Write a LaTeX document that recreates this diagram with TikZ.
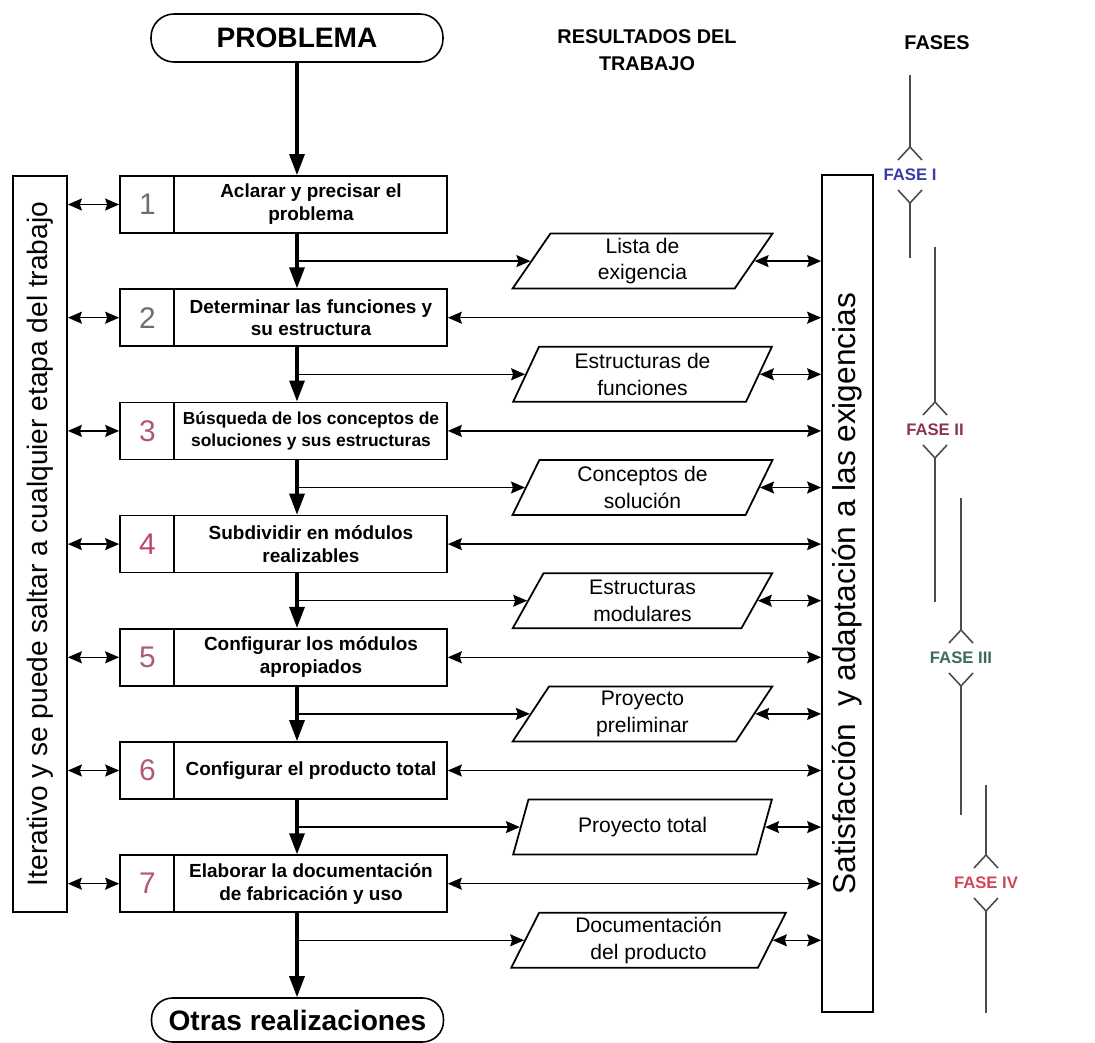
\documentclass[tikz,border=0pt]{standalone}
\usepackage{fontspec}
\setmainfont{Liberation Sans}
\usetikzlibrary{arrows.meta,shapes.geometric}

\definecolor{numgray}{HTML}{6E6E6E}
\definecolor{numrose}{HTML}{B05A72}
\definecolor{numred}{HTML}{C04462}
\definecolor{faseI}{HTML}{3A3AA8}
\definecolor{faseII}{HTML}{8C3358}
\definecolor{faseIII}{HTML}{3A6B62}
\definecolor{faseIV}{HTML}{D2465A}

\newcommand{\smallstep}{\fontsize{9.9}{13}\selectfont}

\tikzset{
  pill/.style={draw, line width=0.9pt, rounded corners=0.46cm, minimum width=5.84cm,
    minimum height=0.96cm, font=\fontsize{16}{18}\selectfont\bfseries},
  stepbox/.style={draw, line width=1pt, minimum width=6.54cm, minimum height=1.14cm},
  steptext/.style={align=center, inner sep=0pt, font=\fontsize{10.8}{13}\selectfont\bfseries},
  stepnum/.style={inner sep=0pt, font=\fontsize{17}{20}\selectfont},
  result/.style={draw, line width=1pt, trapezium, trapezium left angle=69,
    trapezium right angle=111, trapezium stretches=true, minimum height=1.1cm,
    align=center, inner sep=1pt, font=\fontsize{12}{15}\selectfont},
  sidebox/.style={draw, line width=1pt},
  sidetext/.style={rotate=90, inner sep=0pt},
  header/.style={align=center, font=\fontsize{11.3}{15.3}\selectfont\bfseries},
  flow/.style={line width=1.8pt, -{Triangle[length=0.42cm,width=0.3cm]}},
  branch/.style={line width=0.8pt, -{Stealth[length=0.28cm,width=0.24cm,inset=0.04cm]}},
  link/.style={line width=0.8pt, {Stealth[length=0.28cm,width=0.24cm,inset=0.04cm]}-{Stealth[length=0.28cm,width=0.24cm,inset=0.04cm]}},
  faseline/.style={draw=black!70, line width=0.9pt},
  faselabel/.style={inner sep=1pt, font=\fontsize{9.5}{11}\selectfont\bfseries},
}

\begin{document}
\begin{tikzpicture}[x=0.02cm, y=-0.02cm]
    \useasboundingbox (0,0) rectangle (1095,1043);

    % titles
    \node[pill] (prob) at (297,38) {PROBLEMA};
    \node[header] (resultados) at (647,50) {RESULTADOS DEL\\TRABAJO};
    \node[header] (fases) at (937,43) {FASES};

    % side columns
    \node[sidebox, minimum width=1.08cm, minimum height=14.72cm] (iter) at (40,544) {};
    \node[sidetext, font=\fontsize{16}{18}\selectfont] at (iter.center)
        {Iterativo y se puede saltar a cualquier etapa del trabajo};
    \node[sidebox, minimum width=1.02cm, minimum height=16.74cm] (sat) at (847.5,593.5) {};
    \node[sidetext, font=\fontsize{18}{20}\selectfont] at (sat.center)
        {Satisfacción\ \ y adaptación a las exigencias};

    % steps
    \foreach \i/\txt/\col [evaluate=\i as \yb using {204.5+(\i-1)*113.2}] in {
        1/{Aclarar y precisar el\\problema}/numgray,
        2/{Determinar las funciones y\\su estructura}/numgray,
        3/{\smallstep Búsqueda de los conceptos de\\\smallstep soluciones y sus estructuras}/numrose,
        4/{Subdividir en módulos\\realizables}/numred,
        5/{Configurar los módulos\\apropiados}/numrose,
        6/{Configurar el producto total}/numrose,
        7/{Elaborar la documentación\\de fabricación y uso}/numrose}{
      \node[stepbox] (box\i) at (283.5,\yb) {};
      \draw[line width=1pt] ([xshift=1.1cm]box\i.north west) -- ([xshift=1.1cm]box\i.south west);
      \node[stepnum, text=\col] (num\i) at (147.5,\yb) {\i};
      \node[steptext] (txt\i) at (311,\yb) {\txt};
    }
    \node[pill, minimum height=0.88cm, rounded corners=0.42cm] (otras) at (297.5,1020) {Otras realizaciones};

    % results of the work
    \foreach \i/\txt/\xc/\w [evaluate=\i as \yr using {261.1+(\i-1)*113.2}] in {
        1/{Lista de\\exigencia}/642.5/5.22cm,
        2/{Estructuras de\\funciones}/642.5/5.22cm,
        3/{Conceptos de\\solución}/642.5/5.22cm,
        4/{Estructuras\\modulares}/642.5/5.22cm,
        5/{Proyecto\\preliminar}/642.5/5.22cm,
        6/{Proyecto total}/642.5/5.22cm,
        7/{Documentación\\del producto}/648.5/5.5cm}{
      \node[result, minimum width=\w] (res\i) at (\xc,\yr) {\txt};
    }

    % main flow
    \draw[flow] (prob.south) -- (box1.north -| prob);
    \foreach \i [evaluate=\i as \j using int(\i+1)] in {1,...,6}
      \draw[flow] (box\i.south -| prob) -- (box\j.north -| prob);
    \draw[flow] (box7.south -| prob) -- (otras.north -| prob);

    % connectors
    \foreach \i in {1,...,7} {
      \draw[link] (box\i.west -| iter.east) -- (box\i.west);
      \draw[branch] (res\i.west -| prob) -- (res\i.west);
      \draw[link] (res\i.east) -- (res\i.east -| sat.west);
    }
    \foreach \i in {2,...,7}
      \draw[link] (box\i.east) -- (box\i.east -| sat.west);

    % phases
    \foreach \x/\ytop/\yap/\yend/\lab/\col/\n in {
        910/75/147/258/FASE I/faseI/1,
        935/247/402/602/FASE II/faseII/2,
        961/498/630/815/FASE III/faseIII/3,
        986/785/855/1013/FASE IV/faseIV/4}{
      \draw[faseline] (\x,\ytop) -- (\x,\yap);
      \draw[faseline] (\x-12,\yap+13) -- (\x,\yap) -- (\x+12,\yap+13);
      \node[faselabel, text=\col] (fase\n) at (\x,\yap+28) {\lab};
      \draw[faseline] (\x-12,\yap+43) -- (\x,\yap+56) -- (\x+12,\yap+43);
      \draw[faseline] (\x,\yap+56) -- (\x,\yend);
    }
\end{tikzpicture}
\end{document}
